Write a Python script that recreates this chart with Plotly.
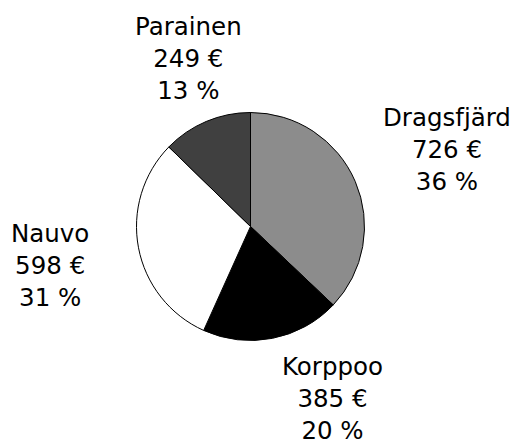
import plotly.graph_objects as go

# Data
regions = ["Dragsfjärd", "Korppoo", "Nauvo", "Parainen"]
amounts = [726, 385, 598, 249]
percent_labels = ["36 %", "20 %", "31 %", "13 %"]
colors = ["#8c8c8c", "#000000", "#ffffff", "#404040"]

W, H = 513, 445
cx, cy, r = 250.5, 226.5, 114.0

# label centre positions in pixels (layout only)
label_px = [(447, 150), (332, 398), (50, 265), (188, 58)]

fig = go.Figure(go.Pie(
    labels=regions,
    values=amounts,
    sort=False,
    direction="clockwise",
    rotation=0,
    marker=dict(colors=colors, line=dict(color="#000000", width=1)),
    textinfo="none",
    hoverinfo="label+value",
    showlegend=False,
    domain=dict(x=[(cx - r) / W, (cx + r) / W],
                y=[(H - cy - r) / H, (H - cy + r) / H]),
))

annotations = []
for name, val, pct, (px, py) in zip(regions, amounts, percent_labels, label_px):
    annotations.append(dict(
        text=f"{name}<br>{val} €<br>{pct}",
        x=px / W, y=1 - py / H, xref="paper", yref="paper",
        xanchor="center", yanchor="middle", align="center",
        showarrow=False, borderpad=0,
        font=dict(family="DejaVu Sans", size=24.5, color="#000000"),
    ))

fig.update_layout(
    width=W, height=H,
    margin=dict(l=0, r=0, t=0, b=0),
    paper_bgcolor="#ffffff",
    plot_bgcolor="#ffffff",
    annotations=annotations,
)

fig.write_html("out.html",
               config={"displayModeBar": False},
               post_script="document.body.style.margin='0';document.body.style.overflow='hidden';")
